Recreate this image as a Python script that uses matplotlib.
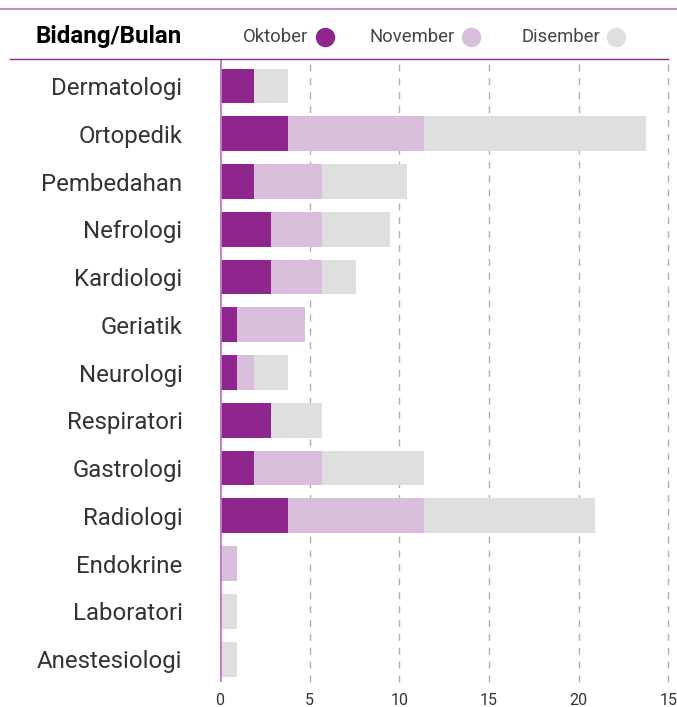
import matplotlib
matplotlib.use("Agg")
import matplotlib.pyplot as plt
from matplotlib.lines import Line2D
import numpy as np

plt.rcParams['font.family'] = ['Roboto', 'DejaVu Sans']

bidang = ['Dermatologi', 'Ortopedik', 'Pembedahan', 'Nefrologi', 'Kardiologi',
          'Geriatik', 'Neurologi', 'Respiratori', 'Gastrologi', 'Radiologi',
          'Endokrine', 'Laboratori', 'Anestesiologi']
oktober = [1.9, 3.8, 1.9, 2.85, 2.85, 0.95, 0.95, 2.85, 1.9, 3.8, 0, 0, 0]
november = [0, 7.6, 3.8, 2.85, 2.85, 3.8, 0.95, 0, 3.8, 7.6, 0.95, 0, 0]
disember = [1.9, 12.35, 4.75, 3.8, 1.9, 0, 1.9, 2.85, 5.7, 9.5, 0, 0.95, 0.95]
bulan = ['Oktober', 'November', 'Disember']
warna = ['#8e268e', '#d9bfdc', '#dfdfdf']
xticks = [0, 5, 10, 15, 20, 25]
xlabels = ['0', '5', '10', '15', '20', '15']

fig = plt.figure(figsize=(6.77, 7.07), dpi=100)
ax = fig.add_axes([220/677, 1-682/707, (668.3-220)/677, 622/707])

y = np.arange(len(bidang))
left = np.zeros(len(bidang))
for vals, c in zip([oktober, november, disember], warna):
    ax.barh(y, vals, left=left, height=0.73, color=c, zorder=2)
    left += np.array(vals)

ax.set_xlim(0, 25)
ax.set_ylim(12.48, -0.545)
for xt in xticks[1:]:
    ax.axvline(xt, color='#b0b0b0', linestyle=(0, (5, 5)), linewidth=1, zorder=1, clip_on=False)
ax.axvline(0, color='#c27cc7', linewidth=2, zorder=3)

ax.set_yticks(y)
ax.set_yticklabels(bidang, fontsize=17.3, color='#333333')
ax.set_xticks(xticks)
ax.set_xticklabels(xlabels, fontsize=11.5, color='#333333')
ax.tick_params(axis='y', length=0, pad=27)
ax.tick_params(axis='x', length=0, pad=8)
for s in ax.spines.values():
    s.set_visible(False)

# header
fig.add_artist(Line2D([0, 1], [1-9/707, 1-9/707], color='#c48bc4', linewidth=1.5,
                      transform=fig.transFigure))
fig.add_artist(Line2D([10/677, 668/677], [1-59/707, 1-59/707], color='#8e268e', linewidth=1,
                      transform=fig.transFigure))
fig.text(182/677, 1-37/707, 'Bidang/Bulan', fontsize=17.4, fontweight='bold',
         ha='right', va='center', color='black')
for nama, c, tx, mx in zip(bulan, warna, [308, 455, 600], [325, 471, 616]):
    fig.text(tx/677, 1-37/707, nama, fontsize=13.3, color='#444444', ha='right', va='center')
    fig.add_artist(Line2D([mx/677], [1-37/707], marker='o', markersize=13,
                          color=c, linestyle='none', transform=fig.transFigure))

fig.savefig('out.png', dpi=100)
